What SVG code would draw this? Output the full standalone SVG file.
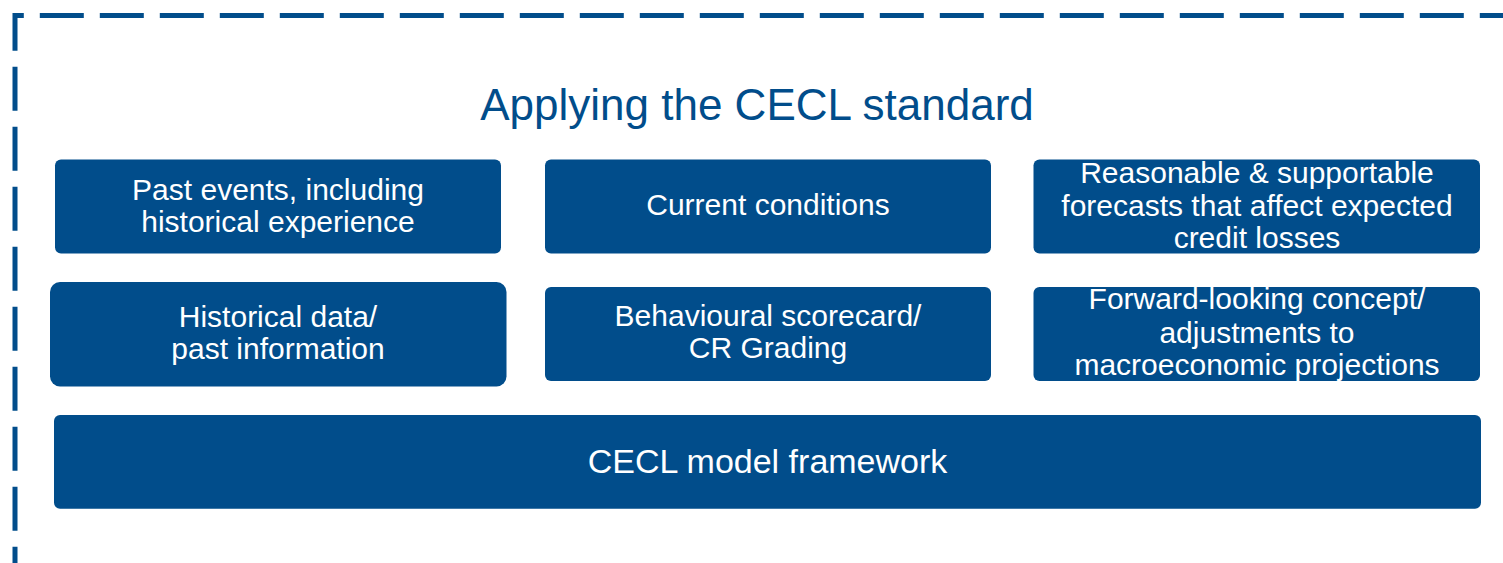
<svg xmlns="http://www.w3.org/2000/svg" width="1503" height="563" viewBox="0 0 1503 563">
<style>
.box{fill:#014d8b;}
.t{font-family:"Liberation Sans",Arial,sans-serif;fill:#ffffff;font-size:30px;text-anchor:middle;}
.title{font-family:"Liberation Sans",Arial,sans-serif;fill:#014d8b;font-size:44px;text-anchor:middle;}
.frame{fill:none;stroke:#014d8b;stroke-width:5;stroke-dasharray:44 16;}
</style>
<rect width="1503" height="563" fill="#ffffff"/>
<g id="frame">
<path class="frame" d="M15,590.7 L15,15.5 L1620,15.5"/>
</g>
<text class="title" x="757" y="120">Applying the CECL standard</text>
<g id="connectors"></g>
<g id="past-events">
<rect class="box" x="55" y="159.5" width="446" height="94" rx="6"/>
<text class="t" x="278" y="200">Past events, including</text>
<text class="t" x="278" y="231.7">historical experience</text>
</g>
<g id="current-conditions">
<rect class="box" x="545" y="159.5" width="446" height="94" rx="6"/>
<text class="t" x="768" y="215">Current conditions</text>
</g>
<g id="forecasts">
<rect class="box" x="1033.5" y="159.5" width="446.5" height="94" rx="6"/>
<text class="t" x="1257" y="183.3">Reasonable &amp; supportable</text>
<text class="t" x="1257" y="215.5">forecasts that affect expected</text>
<text class="t" x="1257" y="248">credit losses</text>
</g>
<g id="historical-data">
<rect class="box" x="50" y="282" width="456.5" height="104.5" rx="10"/>
<text class="t" x="278" y="326.7">Historical data/</text>
<text class="t" x="278" y="359.3">past information</text>
</g>
<g id="scorecard">
<rect class="box" x="545" y="287" width="446" height="94" rx="6"/>
<text class="t" x="768" y="325.7">Behavioural scorecard/</text>
<text class="t" x="768" y="358.3">CR Grading</text>
</g>
<g id="forward-looking">
<rect class="box" x="1033.5" y="287" width="446.5" height="94" rx="6"/>
<text class="t" x="1257" y="309.3">Forward-looking concept/</text>
<text class="t" x="1257" y="342.5">adjustments to</text>
<text class="t" x="1257" y="375">macroeconomic projections</text>
</g>
<g id="cecl-model">
<rect class="box" x="54" y="415" width="1427" height="93.7" rx="6"/>
<text class="t" x="767.5" y="472.7" style="font-size:34px">CECL model framework</text>
</g>
</svg>
